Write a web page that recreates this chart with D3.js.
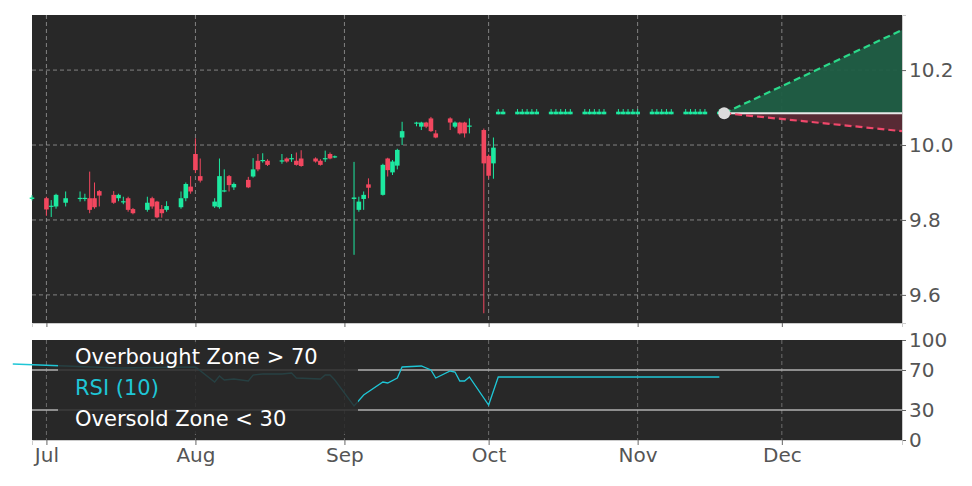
<!DOCTYPE html>
<html><head><meta charset="utf-8">
<script src="https://cdn.jsdelivr.net/npm/d3@7"></script>
<style>body{margin:0;background:#fff}svg{display:block}</style>
</head><body><svg id="c" width="972" height="486"></svg>
<script>
const dates = ["2024-06-28","2024-07-01","2024-07-02","2024-07-03","2024-07-05","2024-07-08","2024-07-09","2024-07-10","2024-07-11","2024-07-12","2024-07-15","2024-07-16","2024-07-17","2024-07-18","2024-07-19","2024-07-22","2024-07-23","2024-07-24","2024-07-25","2024-07-26","2024-07-29","2024-07-30","2024-07-31","2024-08-01","2024-08-02","2024-08-05","2024-08-06","2024-08-07","2024-08-08","2024-08-09","2024-08-12","2024-08-13","2024-08-14","2024-08-15","2024-08-16","2024-08-19","2024-08-20","2024-08-21","2024-08-22","2024-08-23","2024-08-26","2024-08-27","2024-08-28","2024-08-29","2024-08-30","2024-09-03","2024-09-04","2024-09-05","2024-09-06","2024-09-09","2024-09-10","2024-09-11","2024-09-12","2024-09-13","2024-09-16","2024-09-17","2024-09-18","2024-09-19","2024-09-20","2024-09-23","2024-09-24","2024-09-25","2024-09-26","2024-09-27","2024-09-30","2024-10-01","2024-10-02",
"2024-10-03","2024-10-04","2024-10-07","2024-10-08","2024-10-09","2024-10-10","2024-10-11","2024-10-14","2024-10-15","2024-10-16","2024-10-17","2024-10-18","2024-10-21","2024-10-22","2024-10-23","2024-10-24","2024-10-25","2024-10-28","2024-10-29","2024-10-30","2024-10-31","2024-11-01","2024-11-04","2024-11-05","2024-11-06","2024-11-07","2024-11-08","2024-11-11","2024-11-12","2024-11-13","2024-11-14","2024-11-15","2024-11-18"];
const opens = [9.856,9.858,9.836,9.836,9.846,9.857,9.857,9.858,9.858,9.877,9.867,9.858,9.848,9.858,9.829,9.827,9.858,9.849,9.829,9.827,9.834,9.858,9.889,9.976,9.917,9.836,9.834,9.877,9.917,9.887,9.907,9.916,9.958,9.958,9.958,9.957,9.964,9.963,9.958,9.964,9.964,9.958,9.963,9.976,9.968,9.856,9.827,9.856,9.895,9.867,9.964,9.927,9.945,10.020,10.059,10.049,10.060,10.071,10.031,10.071,10.049,10.060,10.060,10.050,10.040,9.971,9.951,
10.082,10.082,10.082,10.082,10.082,10.082,10.082,10.082,10.082,10.082,10.082,10.082,10.082,10.082,10.082,10.082,10.082,10.082,10.082,10.082,10.082,10.082,10.082,10.082,10.082,10.082,10.082,10.082,10.082,10.082,10.082,10.082,10.082];
const closes = [9.860,9.828,9.838,9.867,9.858,9.859,9.859,9.827,9.834,9.865,9.846,9.867,9.850,9.827,9.818,9.846,9.836,9.807,9.818,9.837,9.858,9.896,9.876,9.933,9.905,9.849,9.917,9.879,9.893,9.896,9.887,9.935,9.935,9.960,9.947,9.959,9.956,9.965,9.947,9.944,9.956,9.947,9.965,9.964,9.970,9.860,9.849,9.867,9.886,9.947,9.933,9.956,9.987,10.037,10.060,10.060,10.049,10.037,10.020,10.060,10.060,10.031,10.031,10.052,9.951,9.918,9.993,
10.089,10.089,10.089,10.089,10.089,10.089,10.089,10.089,10.089,10.089,10.089,10.089,10.089,10.089,10.089,10.089,10.089,10.089,10.089,10.089,10.089,10.089,10.089,10.089,10.089,10.089,10.089,10.089,10.089,10.089,10.089,10.089,10.089];
const highs = [9.866,9.862,9.853,9.870,9.876,9.876,9.870,9.929,9.900,9.880,9.877,9.870,9.862,9.862,9.832,9.862,9.862,9.851,9.840,9.850,9.876,9.900,9.917,10.018,9.964,9.858,9.964,9.935,9.920,9.900,9.915,9.965,9.976,9.978,9.962,9.976,9.967,9.976,9.980,9.986,9.967,9.962,9.985,9.980,9.972,9.955,9.862,9.876,9.911,9.950,9.966,9.960,9.990,10.062,10.062,10.062,10.062,10.075,10.040,10.074,10.063,10.062,10.062,10.071,10.044,9.975,10.020,
10.096,10.096,10.096,10.096,10.096,10.096,10.096,10.096,10.096,10.096,10.096,10.096,10.096,10.096,10.096,10.096,10.096,10.096,10.096,10.096,10.096,10.096,10.096,10.096,10.096,10.096,10.096,10.096,10.096,10.096,10.096,10.096,10.096];
const lows = [9.852,9.811,9.808,9.830,9.836,9.849,9.850,9.818,9.830,9.836,9.843,9.850,9.842,9.822,9.815,9.822,9.830,9.805,9.806,9.822,9.830,9.850,9.870,9.925,9.900,9.832,9.830,9.874,9.876,9.880,9.885,9.913,9.930,9.953,9.944,9.950,9.953,9.955,9.945,9.942,9.953,9.945,9.955,9.962,9.965,9.707,9.822,9.827,9.858,9.865,9.916,9.920,9.935,10.000,10.050,10.040,10.045,10.035,10.018,10.040,10.045,10.028,10.020,10.031,9.551,9.910,9.910,
10.082,10.082,10.082,10.082,10.082,10.082,10.082,10.082,10.082,10.082,10.082,10.082,10.082,10.082,10.082,10.082,10.082,10.082,10.082,10.082,10.082,10.082,10.082,10.082,10.082,10.082,10.082,10.082,10.082,10.082,10.082,10.082,10.082];

const rsiDates = ["2024-06-24","2024-07-05","2024-07-16","2024-08-01","2024-08-05","2024-08-06","2024-08-07","2024-08-09","2024-08-12","2024-08-13","2024-08-15","2024-08-19","2024-08-21","2024-08-22","2024-08-27","2024-08-28","2024-08-29","2024-08-30","2024-09-03","2024-09-05","2024-09-09","2024-09-10","2024-09-12","2024-09-13","2024-09-17","2024-09-19","2024-09-20","2024-09-23","2024-09-24","2024-09-25","2024-09-26","2024-09-27","2024-10-01","2024-10-03","2024-11-18"];
const rsiValues = [76,74,72,73,58,64,60,61,59,65,66,66,67,62,61,65,65,60,34,45,58,57,62,73,74,70,62,69,68,59,59,63,35,63,63];

const lastDate = "2024-11-19", lastPrice = 10.085;
const forecastEnd = "2024-12-26", forecastHigh = 10.307, forecastLow = 10.037;
const priceTicks = [9.6, 9.8, 10.0, 10.2];
const rsiTicks = [0, 30, 70, 100];
const monthTicks = ["2024-07-01","2024-08-01","2024-09-01","2024-10-01","2024-11-01","2024-12-01"];
const monthLabels = ["Jul","Aug","Sep","Oct","Nov","Dec"];

const P = d3.timeParse("%Y-%m-%d");
const svg = d3.select("#c");
const L = 32, R = 902, T1 = 15, B1 = 323, T2 = 340, B2 = 440;
const x = d3.scaleTime().domain([P("2024-06-28"), P("2024-12-26")]).range([L, R]);
// adjust domain so Jul 1 sits at ~45 and Dec 1 at ~780
x.domain([d3.timeDay.offset(P("2024-07-01"), -2.7), d3.timeDay.offset(P("2024-12-01"), 25.2)]);
const y = d3.scaleLinear().domain([9.525, 10.347]).range([B1, T1]);
const yr = d3.scaleLinear().domain([0, 100]).range([B2, T2]);
const bg = "#282828", gridC = "#9a9a9a", axisC = "#555";
const green = "#1de9a0", red = "#f2475f";

svg.append("rect").attr("x",L).attr("y",T1).attr("width",R-L).attr("height",B1-T1).attr("fill",bg);
svg.append("rect").attr("x",L).attr("y",T2).attr("width",R-L).attr("height",B2-T2).attr("fill",bg);

const g1 = svg.append("g");
monthTicks.forEach(m => {
  const xx = x(P(m));
  g1.append("line").attr("x1",xx).attr("x2",xx).attr("y1",T1).attr("y2",B1).attr("stroke",gridC).attr("stroke-dasharray","4,3").attr("stroke-width",0.8);
  g1.append("line").attr("x1",xx).attr("x2",xx).attr("y1",T2).attr("y2",B2).attr("stroke",gridC).attr("stroke-dasharray","4,3").attr("stroke-width",0.6);
});
priceTicks.forEach(p => {
  g1.append("line").attr("x1",L).attr("x2",R).attr("y1",y(p)).attr("y2",y(p)).attr("stroke",gridC).attr("stroke-dasharray","4,3").attr("stroke-width",0.8);
});

// forecast cone
const x0 = x(P(lastDate)), x1 = x(P(forecastEnd));
svg.append("path").attr("d", d3.line()([[x0,y(lastPrice)],[x1,y(forecastHigh)],[x1,y(lastPrice)]])).attr("fill","#1f5e45").attr("opacity",0.95);
svg.append("path").attr("d", d3.line()([[x0,y(lastPrice)],[x1,y(forecastLow)],[x1,y(lastPrice)]])).attr("fill","#5a2a35").attr("opacity",0.95);
svg.append("line").attr("x1",x0).attr("x2",x1).attr("y1",y(lastPrice)).attr("y2",y(lastPrice)).attr("stroke","#e8e8e8").attr("stroke-width",2);
svg.append("line").attr("x1",x0).attr("x2",x1).attr("y1",y(lastPrice)).attr("y2",y(forecastHigh)).attr("stroke","#2bd98a").attr("stroke-width",2.2).attr("stroke-dasharray","7,4");
svg.append("line").attr("x1",x0).attr("x2",x1).attr("y1",y(lastPrice)).attr("y2",y(forecastLow)).attr("stroke","#f0476a").attr("stroke-width",2.2).attr("stroke-dasharray","7,4");

// candles
const cg = svg.append("g");
dates.forEach((d,i) => {
  const xx = x(P(d)), up = closes[i] >= opens[i], c = up ? green : red;
  cg.append("line").attr("x1",xx).attr("x2",xx).attr("y1",y(highs[i])).attr("y2",y(lows[i])).attr("stroke",c).attr("stroke-width",1);
  const top = y(Math.max(opens[i],closes[i])), bot = y(Math.min(opens[i],closes[i]));
  cg.append("rect").attr("x",xx-2.3).attr("width",4.6).attr("y",top).attr("height",Math.max(1.2,bot-top)).attr("fill",c);
});
svg.append("circle").attr("cx",x0).attr("cy",y(lastPrice)).attr("r",6).attr("fill","#dcdcdc");

// RSI panel
[30,70].forEach(v => svg.append("line").attr("x1",L).attr("x2",R).attr("y1",yr(v)).attr("y2",yr(v)).attr("stroke","#b0b0b0").attr("stroke-width",1.5));
svg.append("path").datum(rsiDates.map((d,i)=>[x(P(d)), yr(rsiValues[i])]))
  .attr("d", d3.line()).attr("fill","none").attr("stroke","#1fc6d6").attr("stroke-width",1.3);
// label box
svg.append("rect").attr("x",58).attr("y",342).attr("width",300).attr("height",92).attr("fill",bg).attr("opacity",0.85);
const lbl = (t,yy,c) => svg.append("text").attr("x",75).attr("y",yy).text(t).attr("fill",c).attr("font-family","DejaVu Sans").attr("font-size",21);
lbl("Overbought Zone > 70",364,"#fff");
lbl("RSI (10)",395,"#1fc6d6");
lbl("Oversold Zone < 30",426,"#fff");

// axes
const ya = d3.axisRight(y).tickValues(priceTicks).tickFormat(d3.format(".1f")).tickSize(4);
svg.append("g").attr("transform",`translate(${R},0)`).call(ya);
const yra = d3.axisRight(yr).tickValues(rsiTicks).tickSize(4);
svg.append("g").attr("transform",`translate(${R},0)`).call(yra);
const xa = d3.axisBottom(x).tickValues(monthTicks.map(P)).tickFormat((d,i)=>monthLabels[i]).tickSize(5);
svg.append("g").attr("transform",`translate(0,${B2})`).call(xa);
svg.append("g").attr("transform",`translate(0,${B1})`).call(d3.axisBottom(x).tickValues(monthTicks.map(P)).tickFormat("").tickSize(4));
svg.selectAll(".domain").attr("stroke","#ccc");
svg.selectAll(".tick line").attr("stroke","#666");
svg.selectAll(".tick text").attr("fill",axisC).attr("font-family","DejaVu Sans").attr("font-size",20);
svg.selectAll("g").filter(function(){return false;});
</script></body></html>
